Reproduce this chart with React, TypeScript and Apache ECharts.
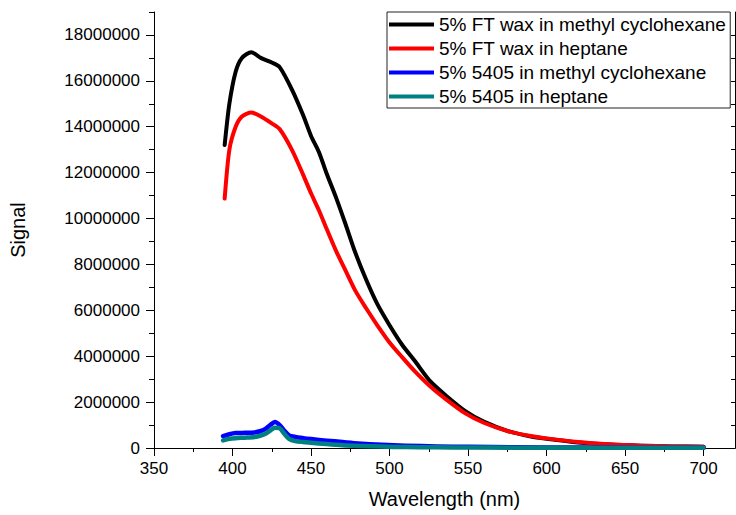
import React, { useEffect, useRef } from "react";
import * as echarts from "echarts";

const seriesNames = [
  "5% FT wax in methyl cyclohexane",
  "5% FT wax in heptane",
  "5% 5405 in methyl cyclohexane",
  "5% 5405 in heptane",
];
const seriesColors = ["#000000", "#ff0000", "#0000ff", "#008080"];

// FT wax spectra (nm, signal in millions)
const wavelengthsFT = [395, 398, 402, 406, 412, 418, 425, 430, 438, 445, 450, 455, 460, 466, 472, 478, 485, 492, 500, 508, 516, 526, 536, 548, 560, 575, 590, 600, 620, 640, 660, 680, 700];
const ftWaxMCH = [13.2, 15.0, 16.4, 17.0, 17.25, 17.0, 16.8, 16.6, 15.6, 14.5, 13.6, 12.9, 11.95, 10.9, 9.75, 8.55, 7.35, 6.3, 5.35, 4.5, 3.8, 2.9, 2.28, 1.62, 1.15, 0.75, 0.5, 0.4, 0.24, 0.15, 0.1, 0.07, 0.05];
const ftWaxHeptane = [10.87, 13.0, 14.0, 14.45, 14.62, 14.45, 14.15, 13.9, 12.97, 11.9, 11.1, 10.36, 9.54, 8.58, 7.73, 6.88, 6.1, 5.37, 4.6, 3.96, 3.35, 2.68, 2.12, 1.52, 1.1, 0.74, 0.52, 0.42, 0.26, 0.16, 0.1, 0.07, 0.05];

// 5405 spectra
const wavelengths5405 = [394, 398, 402, 408, 414, 418, 421, 424, 427, 430, 433, 436, 440, 445, 450, 460, 470, 480, 495, 510, 530, 550, 580, 620, 660, 700];
const s5405MCH = [0.52, 0.6, 0.65, 0.66, 0.68, 0.74, 0.83, 1.0, 1.13, 1.0, 0.75, 0.55, 0.48, 0.43, 0.39, 0.32, 0.26, 0.2, 0.14, 0.1, 0.07, 0.05, 0.03, 0.02, 0.015, 0.01];
const s5405Heptane = [0.33, 0.4, 0.43, 0.45, 0.48, 0.54, 0.62, 0.76, 0.88, 0.86, 0.62, 0.4, 0.3, 0.26, 0.23, 0.17, 0.12, 0.09, 0.06, 0.04, 0.03, 0.02, 0.015, 0.01, 0.01, 0.01];

const xMajorTicks = [350, 400, 450, 500, 550, 600, 650, 700];
const xMinorTicks = [375, 425, 475, 525, 575, 625, 675];
const xTopTicks = [375, 400, 425, 450, 475, 500, 525, 550, 575, 600, 625, 650, 675, 700];
const yMajorTicks = [0, 2000000, 4000000, 6000000, 8000000, 10000000, 12000000, 14000000, 16000000, 18000000];
const yMinorTicks = [1000000, 3000000, 5000000, 7000000, 9000000, 11000000, 13000000, 15000000, 17000000, 19000000];
const yRightTicks = [1000000, 2000000, 3000000, 4000000, 5000000, 6000000, 7000000, 8000000, 9000000, 10000000, 11000000, 12000000, 13000000, 14000000, 15000000, 16000000, 17000000, 18000000];

const X_MIN = 350;
const X_MAX = 720;
const Y_MIN = 0;
const Y_MAX = 19000000;

const FONT = "'Liberation Sans', Arial, Helvetica, sans-serif";

function pairs(xs: number[], ys: number[]) {
  return xs.map((x, i) => [x, ys[i] * 1000000]);
}

export default function App() {
  const ref = useRef<HTMLDivElement>(null);

  useEffect(() => {
    if (!ref.current) return;
    const chart = echarts.init(ref.current, undefined, { renderer: "svg" });
    const lineAxis = { show: true, lineStyle: { color: "#000", width: 1 } };
    const noAxisLine = { show: false };
    const noLabel = { show: false };
    const noSplit = { show: false };

    const xBase = { type: "value", min: X_MIN, max: X_MAX, gridIndex: 0 };
    const yBase = { type: "value", min: Y_MIN, max: Y_MAX, gridIndex: 0 };

    const data = [
      pairs(wavelengthsFT, ftWaxMCH),
      pairs(wavelengthsFT, ftWaxHeptane),
      pairs(wavelengths5405, s5405MCH),
      pairs(wavelengths5405, s5405Heptane),
    ];
    const widths = [4, 4, 4.5, 4.5];

    chart.setOption({
      animation: false,
      backgroundColor: "#fff",
      textStyle: { fontFamily: FONT },
      grid: { left: 151, right: 1, top: 12, bottom: 67, containLabel: false },
      legend: {
        show: true,
        orient: "vertical",
        left: 387,
        top: 12,
        align: "left",
        padding: [2, 4, 1, 2],
        itemGap: 3,
        itemWidth: 45,
        itemHeight: 4,
        icon: "rect",
        backgroundColor: "#fff",
        borderColor: "#222",
        borderWidth: 1,
        textStyle: { fontSize: 19, color: "#000", fontFamily: FONT, lineHeight: 21 },
        data: seriesNames,
      },
      xAxis: [
        {
          ...xBase,
          position: "bottom",
          interval: 50,
          name: "Wavelength (nm)",
          nameLocation: "middle",
          nameGap: 41,
          nameTextStyle: { fontSize: 20, color: "#000", fontFamily: FONT },
          axisLine: lineAxis,
          axisTick: { show: true, inside: false, length: 8, customValues: xMajorTicks, lineStyle: { color: "#000" } },
          axisLabel: {
            show: true,
            margin: 12,
            fontSize: 17,
            color: "#000",
            fontFamily: FONT,
            customValues: xMajorTicks,
            formatter: (v: number) => (xMajorTicks.indexOf(v) >= 0 ? String(v) : ""),
          },
          splitLine: noSplit,
        },
        {
          ...xBase,
          position: "bottom",
          axisLine: noAxisLine,
          axisTick: { show: true, inside: false, length: 4, customValues: xMinorTicks, lineStyle: { color: "#000" } },
          axisLabel: noLabel,
          splitLine: noSplit,
        },
        {
          ...xBase,
          position: "top",
          axisLine: lineAxis,
          axisTick: { show: true, inside: true, length: 4, customValues: xTopTicks, lineStyle: { color: "#000" } },
          axisLabel: noLabel,
          splitLine: noSplit,
        },
      ],
      yAxis: [
        {
          ...yBase,
          position: "left",
          interval: 2000000,
          name: "Signal",
          nameLocation: "middle",
          nameGap: 126,
          nameTextStyle: { fontSize: 20, color: "#000", fontFamily: FONT },
          axisLine: lineAxis,
          axisTick: { show: true, inside: false, length: 8, customValues: yMajorTicks, lineStyle: { color: "#000" } },
          axisLabel: {
            show: true,
            margin: 14,
            fontSize: 17,
            color: "#000",
            fontFamily: FONT,
            customValues: yMajorTicks,
            formatter: (v: number) => (yMajorTicks.indexOf(v) >= 0 ? String(v) : ""),
          },
          splitLine: noSplit,
        },
        {
          ...yBase,
          position: "left",
          axisLine: noAxisLine,
          axisTick: { show: true, inside: false, length: 5, customValues: yMinorTicks, lineStyle: { color: "#000" } },
          axisLabel: noLabel,
          splitLine: noSplit,
        },
        {
          ...yBase,
          position: "right",
          axisLine: lineAxis,
          axisTick: { show: true, inside: true, length: 4, customValues: yRightTicks, lineStyle: { color: "#000" } },
          axisLabel: noLabel,
          splitLine: noSplit,
        },
      ],
      series: seriesNames.map((name, i) => ({
        name,
        type: "line",
        xAxisIndex: 0,
        yAxisIndex: 0,
        data: data[i],
        smooth: 0.25,
        showSymbol: false,
        symbol: "none",
        color: seriesColors[i],
        lineStyle: { color: seriesColors[i], width: widths[i], cap: "round", join: "round" },
        z: 2 + i,
      })),
    });

    return () => {
      chart.dispose();
    };
  }, []);

  return (
    <div style={{ position: "fixed", left: 0, top: 0, width: 736, height: 515, background: "#fff" }}>
      <div ref={ref} style={{ width: 736, height: 515 }} />
    </div>
  );
}
